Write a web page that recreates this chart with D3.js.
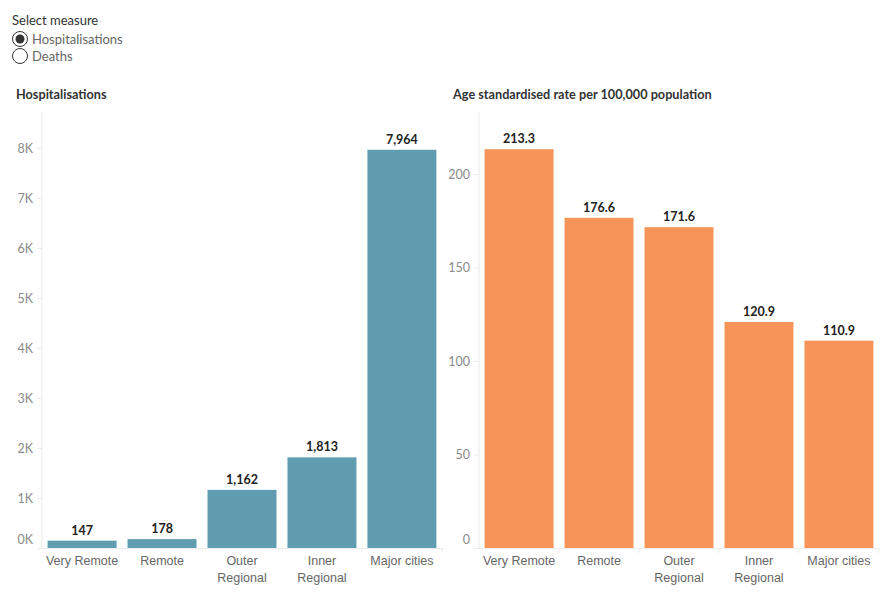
<!DOCTYPE html>
<html>
<head>
    <script src="https://d3js.org/d3.v7.min.js"></script>
    <style>
        body { margin: 0; background: #fff; font-family: Lato, "Open Sans", sans-serif; }
    </style>
</head>
<body>
    <div id="chart" style="width: 890px; height: 600px;"></div>
    <script>
        // data
        var categories = ["Very Remote", "Remote", "Outer Regional", "Inner Regional", "Major cities"];
        var hospitalisations = [147, 178, 1162, 1813, 7964];
        var rates = [213.3, 176.6, 171.6, 120.9, 110.9];
        var hospTicks = [0, 1000, 2000, 3000, 4000, 5000, 6000, 7000, 8000];
        var rateTicks = [0, 50, 100, 150, 200];
        var measures = ["Hospitalisations", "Deaths"];

        var width = 890, height = 600;
        var svg = d3.select("#chart").append("svg")
            .attr("width", width)
            .attr("height", height);

        var axisGray = "#ebebeb";
        var tickText = "#8a8a8a";

        // measure selector (static)
        svg.append("text").attr("x", 12).attr("y", 25)
            .attr("font-size", 13).attr("fill", "#333").text("Select measure");
        var radios = svg.append("g").selectAll("g").data(measures).join("g")
            .attr("transform", function (d, i) { return "translate(20," + (39 + i * 17) + ")"; });
        radios.append("circle").attr("r", 7.5).attr("fill", "#fff")
            .attr("stroke", "#333").attr("stroke-width", 1);
        radios.filter(function (d, i) { return i === 0; })
            .append("circle").attr("r", 4.5).attr("fill", "#333");
        radios.append("text").attr("x", 12).attr("y", 4.5)
            .attr("font-size", 13).attr("fill", "#666").text(function (d) { return d; });

        function drawPanel(opts) {
            var g = svg.append("g");
            var x = d3.scaleBand().domain(categories).range([opts.x0, opts.x0 + 400])
                .paddingInner(0.1375).paddingOuter(0.07);
            var y = d3.scaleLinear().domain([0, opts.max]).range([548, 112]);

            g.append("text").attr("x", opts.titleX).attr("y", 99)
                .attr("font-size", 12.7).attr("font-weight", "bold").attr("fill", "#333")
                .text(opts.title);

            // y axis
            var yAxis = d3.axisLeft(y).tickValues(opts.ticks).tickSize(5).tickPadding(4)
                .tickFormat(opts.tickFormat);
            var ya = g.append("g").attr("transform", "translate(" + opts.x0 + ",0)").call(yAxis);
            ya.select(".domain").attr("stroke", axisGray).attr("d", "M0,112V548");
            ya.selectAll(".tick line").attr("stroke", axisGray);
            ya.selectAll(".tick text").attr("fill", tickText).attr("font-size", 12.5)
                .attr("font-family", "Lato, sans-serif")
                .attr("dy", function (d) { return d === 0 ? "-0.35em" : "0.32em"; });

            // x axis
            var xAxis = d3.axisBottom(x).tickSize(0).tickPadding(0).tickFormat("");
            var xa = g.append("g").attr("transform", "translate(0,548)").call(xAxis);
            xa.select(".domain").attr("stroke", axisGray)
                .attr("d", "M" + (opts.x0 - 5) + ",0.5H" + (opts.x0 + 400));
            // band separators
            xa.selectAll(".sep").data(categories).join("line")
                .attr("x1", function (d) { return x(d) + x.bandwidth() + x.step() * x.paddingInner() / 2; })
                .attr("x2", function (d) { return x(d) + x.bandwidth() + x.step() * x.paddingInner() / 2; })
                .attr("y1", 0).attr("y2", 5).attr("stroke", axisGray);
            var labels = xa.selectAll(".lab").data(categories).join("text")
                .attr("text-anchor", "middle").attr("font-size", 12.5).attr("fill", "#666")
                .attr("transform", function (d) { return "translate(" + (x(d) + x.bandwidth() / 2) + ",17)"; });
            labels.each(function (d) {
                var words = (d === "Very Remote" || d === "Major cities") ? [d] : d.split(" ");
                d3.select(this).selectAll("tspan").data(words).join("tspan")
                    .attr("x", 0).attr("dy", function (w, i) { return i === 0 ? 0 : 17; })
                    .text(function (w) { return w; });
            });

            // bars
            g.append("g").selectAll("rect").data(opts.values).join("rect")
                .attr("x", function (d, i) { return x(categories[i]); })
                .attr("width", x.bandwidth())
                .attr("y", function (d) { return y(d); })
                .attr("height", function (d) { return 548 - y(d); })
                .attr("fill", opts.color);

            // value labels
            g.append("g").selectAll("text").data(opts.values).join("text")
                .attr("x", function (d, i) { return x(categories[i]) + x.bandwidth() / 2; })
                .attr("y", function (d) { return y(d) - 6; })
                .attr("text-anchor", "middle").attr("font-size", 12.5).attr("font-weight", "bold")
                .attr("fill", "#222").text(function (d) { return opts.valueFormat(d); });
        }

        drawPanel({
            x0: 42, max: 8720, ticks: hospTicks, values: hospitalisations,
            color: "#609db1", title: "Hospitalisations", titleX: 16,
            tickFormat: function (d) { return (d / 1000) + "K"; },
            valueFormat: d3.format(",")
        });
        drawPanel({
            x0: 479, max: 233.2, ticks: rateTicks, values: rates,
            color: "#f69459", title: "Age standardised rate per 100,000 population", titleX: 453,
            tickFormat: function (d) { return d; },
            valueFormat: d3.format(".1f")
        });
    </script>
</body>
</html>
